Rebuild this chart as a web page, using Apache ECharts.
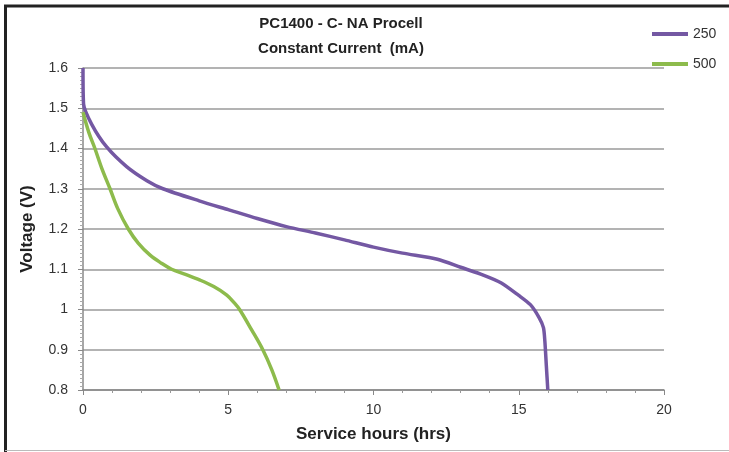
<!DOCTYPE html>
<html><head><meta charset="utf-8">
<script src="https://cdn.jsdelivr.net/npm/echarts@6/dist/echarts.min.js"></script>
<style>html,body{margin:0;padding:0;background:#fff}#c{width:729px;height:452px}</style>
</head><body><div id="c"></div>
<script>
const titleLines = ["PC1400 - C- NA Procell", "Constant Current  (mA)"];
const seriesNames = ["250", "500"];
const xTicks = [0, 5, 10, 15, 20];
const yTicks = [0.8, 0.9, 1, 1.1, 1.2, 1.3, 1.4, 1.5, 1.6];
const hours250 = [0, 0.02, 0.3, 0.8, 1.5, 2.2, 2.75, 4, 5, 6, 7, 8, 9, 10, 11, 12.2, 13, 13.8, 14.4, 15, 15.4, 15.7, 15.85, 15.9, 15.95, 16];
const volts250 = [1.6, 1.51, 1.46, 1.405, 1.355, 1.32, 1.3, 1.27, 1.248, 1.226, 1.206, 1.19, 1.173, 1.155, 1.14, 1.125, 1.105, 1.085, 1.066, 1.035, 1.012, 0.98, 0.955, 0.92, 0.86, 0.8];
const hours500 = [0, 0.2, 0.41, 0.65, 0.93, 1.2, 1.56, 1.9, 2.31, 2.7, 3.05, 3.5, 4.03, 4.5, 4.95, 5.2, 5.39, 5.8, 6.19, 6.5, 6.75];
const volts500 = [1.49, 1.44, 1.4, 1.35, 1.3, 1.25, 1.2, 1.165, 1.135, 1.115, 1.1, 1.088, 1.073, 1.057, 1.036, 1.017, 1.0, 0.95, 0.9, 0.85, 0.8];

const font = "'Liberation Sans Narrow', 'Liberation Sans', sans-serif";
const chart = echarts.init(document.getElementById('c'), null, {renderer: 'canvas'});
chart.setOption({
  animation: false,
  backgroundColor: '#fff',
  title: {
    text: titleLines.join('\n'),
    left: 341, top: 11, textAlign: 'center', padding: 0,
    textStyle: {fontFamily: font, fontWeight: 'bold', fontSize: 15, lineHeight: 25, color: '#222'}
  },
  legend: {
    orient: 'vertical', left: 652, top: 27, padding: 0, itemWidth: 36, itemHeight: 4, itemGap: 16,
    icon: 'rect',
    textStyle: {fontFamily: font, fontSize: 14, color: '#333'},
    data: seriesNames
  },
  grid: {left: 83, right: 65, top: 68, bottom: 62},
  xAxis: {
    type: 'value', min: 0, max: 20, interval: 5,
    name: 'Service hours (hrs)', nameLocation: 'middle', nameGap: 36,
    nameTextStyle: {fontFamily: font, fontWeight: 'bold', fontSize: 17, color: '#222'},
    axisLine: {show: true, lineStyle: {color: '#888', width: 1.5}},
    axisTick: {show: true, length: 5, lineStyle: {color: '#888'}},
    minorTick: {show: true, splitNumber: 5, length: 3, lineStyle: {color: '#999'}},
    axisLabel: {fontFamily: font, fontSize: 14, color: '#333', margin: 13,
      formatter: v => xTicks.includes(v) ? String(v) : ''},
    splitLine: {show: false}
  },
  yAxis: {
    type: 'value', min: 0.8, max: 1.6, interval: 0.1,
    name: 'Voltage (V)', nameLocation: 'middle', nameGap: 47, nameRotate: 90,
    nameTextStyle: {fontFamily: font, fontWeight: 'bold', fontSize: 17, color: '#222'},
    axisLine: {show: true, lineStyle: {color: '#888', width: 1.5}},
    axisTick: {show: true, length: 5, lineStyle: {color: '#888'}},
    minorTick: {show: true, splitNumber: 10, length: 3, lineStyle: {color: '#aaa'}},
    axisLabel: {fontFamily: font, fontSize: 14, color: '#333', margin: 15,
      formatter: v => { const r = Math.round(v * 10) / 10; return yTicks.includes(r) ? String(r) : ''; }},
    splitLine: {show: true, lineStyle: {color: '#9a9a9a', width: 1.5}}
  },
  series: [
    {name: seriesNames[0], type: 'line', showSymbol: false, smooth: 0.25,
     color: '#7458a3', lineStyle: {width: 3.5, color: '#7458a3'},
     data: hours250.map((h, i) => [h, volts250[i]])},
    {name: seriesNames[1], type: 'line', showSymbol: false, smooth: 0.35,
     color: '#8dbb4c', lineStyle: {width: 3.5, color: '#8dbb4c'},
     data: hours500.map((h, i) => [h, volts500[i]])}
  ],
  graphic: [
    {type: 'line', shape: {x1: 4, y1: 6, x2: 729, y2: 6}, style: {stroke: '#222', lineWidth: 3}},
    {type: 'line', shape: {x1: 5.5, y1: 5, x2: 5.5, y2: 452}, style: {stroke: '#222', lineWidth: 3}},
    {type: 'line', shape: {x1: 5, y1: 450.5, x2: 729, y2: 450.5}, style: {stroke: '#bbb', lineWidth: 1}}
  ]
});
</script>
</body></html>
